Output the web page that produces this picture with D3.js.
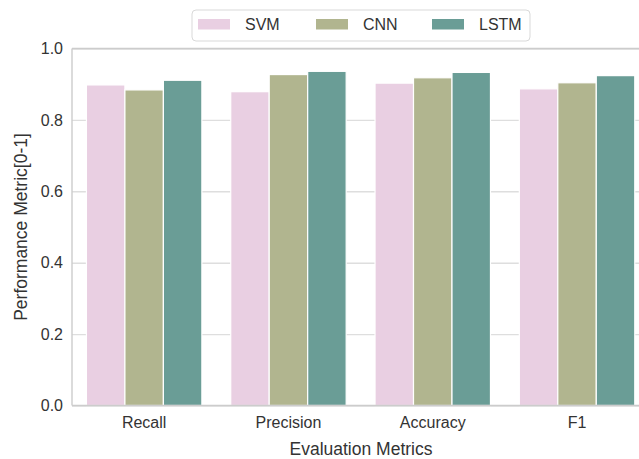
<!DOCTYPE html>
<html>
<head>
<meta charset="utf-8">
<script src="https://cdn.jsdelivr.net/npm/d3@7"></script>
<style>
  html, body { margin: 0; padding: 0; background: #fff; }
  svg { display: block; }
  text { font-family: "Liberation Sans", Arial, Helvetica, sans-serif; fill: #333; }
</style>
</head>
<body>
<svg id="chart" width="639" height="459"></svg>
<script>
const categories = ["Recall", "Precision", "Accuracy", "F1"];
const seriesNames = ["SVM", "CNN", "LSTM"];
const svmValues  = [0.898, 0.879, 0.903, 0.887];
const cnnValues  = [0.884, 0.927, 0.918, 0.904];
const lstmValues = [0.911, 0.936, 0.933, 0.924];
const yTicks = [0.0, 0.2, 0.4, 0.6, 0.8, 1.0];
const colors = ["#E9CFE2", "#B1B58F", "#6A9D96"];

const seriesValues = [svmValues, cnnValues, lstmValues];
const data = categories.map((c, i) => ({
  category: c,
  values: seriesNames.map((s, j) => ({ series: s, value: seriesValues[j][i] }))
}));

const svg = d3.select("#chart");
const mLeft = 72, mRight = 649.2, mTop = 48.5, mBottom = 405.5;

const x = d3.scaleBand().domain(categories).range([mLeft, mRight]).padding(0);
const bw = x.bandwidth();
const xInner = d3.scaleBand().domain(seriesNames).range([0.1 * bw, 0.9 * bw]).padding(0);
const y = d3.scaleLinear().domain([0, 1]).range([mBottom, mTop]);
const color = d3.scaleOrdinal().domain(seriesNames).range(colors);

// gridlines
const yGrid = d3.axisLeft(y).tickValues(yTicks).tickSize(-(mRight - mLeft)).tickFormat("");
const gGrid = svg.append("g").attr("transform", `translate(${mLeft},0)`).call(yGrid);
gGrid.select(".domain").remove();
gGrid.selectAll(".tick line").attr("stroke", "#dedede").attr("stroke-width", 1.4);

// bars
const groups = svg.append("g").selectAll("g").data(data).join("g")
  .attr("transform", d => `translate(${x(d.category)},0)`);
groups.selectAll("rect").data(d => d.values).join("rect")
  .attr("x", d => xInner(d.series))
  .attr("width", xInner.bandwidth())
  .attr("y", d => y(d.value))
  .attr("height", d => y(0) - y(d.value))
  .attr("fill", d => color(d.series))
  .attr("stroke", "#ffffff")
  .attr("stroke-width", 1.2);

// spines
const spine = svg.append("g").attr("fill", "none").attr("stroke", "#cccccc").attr("stroke-width", 1.4);
spine.append("line").attr("x1", mLeft).attr("x2", mLeft).attr("y1", mTop).attr("y2", mBottom);
spine.append("line").attr("x1", mLeft).attr("x2", mRight).attr("y1", mBottom).attr("y2", mBottom);
spine.append("line").attr("x1", mLeft).attr("x2", mRight).attr("y1", mTop).attr("y2", mTop);
spine.append("line").attr("x1", mRight).attr("x2", mRight).attr("y1", mTop).attr("y2", mBottom);

// y axis labels
const yAxis = d3.axisLeft(y).tickValues(yTicks).tickSize(0).tickPadding(9).tickFormat(d3.format(".1f"));
const gy = svg.append("g").attr("transform", `translate(${mLeft},0)`).call(yAxis);
gy.select(".domain").remove();
gy.selectAll("text").style("font-size", "16px").attr("fill", "#333")
  .style("font-family", '"Liberation Sans", Arial, sans-serif');

// x axis labels
const xAxis = d3.axisBottom(x).tickSize(0).tickPadding(11);
const gx = svg.append("g").attr("transform", `translate(0,${mBottom})`).call(xAxis);
gx.select(".domain").remove();
gx.selectAll("text").style("font-size", "16px").attr("fill", "#333")
  .style("font-family", '"Liberation Sans", Arial, sans-serif');

// axis titles
svg.append("text").attr("x", 361).attr("y", 455)
  .attr("text-anchor", "middle").style("font-size", "17.5px").text("Evaluation Metrics");
svg.append("text").attr("transform", `translate(27,${(mTop + mBottom) / 2}) rotate(-90)`)
  .attr("text-anchor", "middle").style("font-size", "17.5px").text("Performance Metric[0-1]");

// legend
const lg = svg.append("g");
lg.append("rect").attr("x", 192).attr("y", 10).attr("width", 338).attr("height", 31)
  .attr("rx", 4).attr("fill", "#fff").attr("stroke", "#d9d9d9").attr("stroke-width", 1);
const legendX = [198, 316, 432];
seriesNames.forEach((s, i) => {
  lg.append("rect").attr("x", legendX[i]).attr("y", 19).attr("width", 32).attr("height", 10.5)
    .attr("fill", color(s));
  lg.append("text").attr("x", legendX[i] + 47).attr("y", 29.5).style("font-size", "16px").text(s);
});
</script>
</body>
</html>
